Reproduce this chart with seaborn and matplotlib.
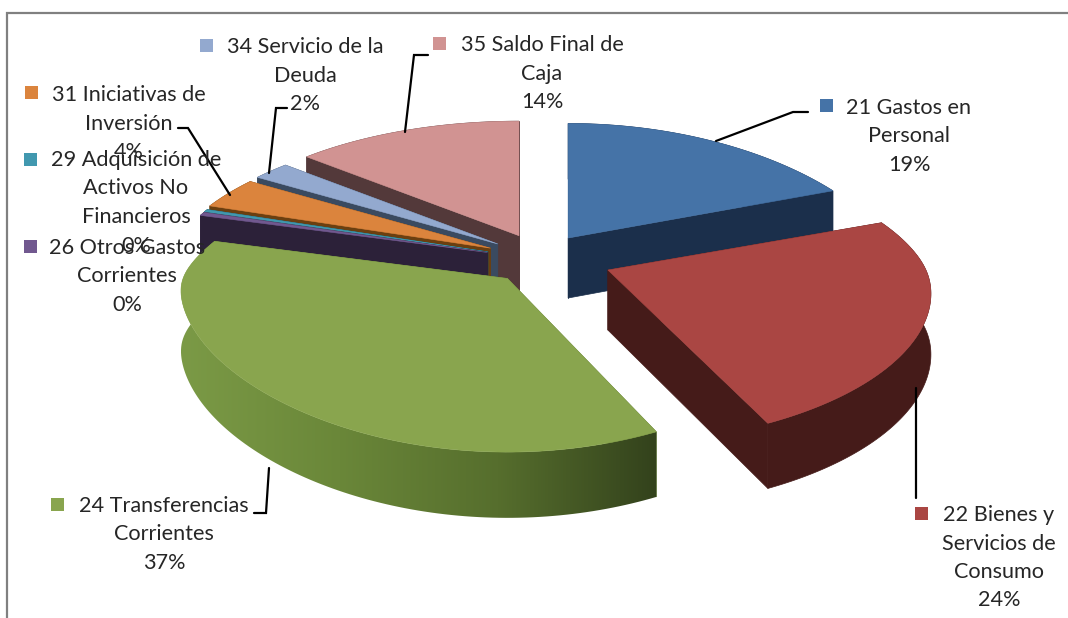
import numpy as np
import matplotlib
matplotlib.use("Agg")
import matplotlib.pyplot as plt
from matplotlib.patches import Polygon, Rectangle
import seaborn as sns

# ===== DATA =====
label_lines = [
    ["21 Gastos en", "Personal"],
    ["22 Bienes y", "Servicios de", "Consumo"],
    ["24 Transferencias", "Corrientes"],
    ["26 Otros Gastos", "Corrientes"],
    ["29 Adquisición de", "Activos No", "Financieros"],
    ["31 Iniciativas de", "Inversión"],
    ["34 Servicio de la", "Deuda"],
    ["35 Saldo Final de", "Caja"],
]
values = [19.0, 24.0, 36.6, 0.4, 0.3, 3.7, 2.2, 13.8]

# ===== STYLE =====
top_colors = ["#4573A7", "#AA4643", "#89A54E", "#71588F", "#4198AF", "#DB843D", "#93A9CF", "#D19392"]
side_colors = ["#1B2F4B", "#451B19", "#5E7733", "#2C2139", "#154A52", "#6B3F10", "#3A4A60", "#53393A"]
explode_x = [1.0, 1.46, 1.0, 1.1, 1.1, 1.1, 1.05, 1.0]
explode_y = [1.0, 0.75, 0.75, 1.1, 1.1, 1.1, 1.05, 1.0]
front_widen = [0.1, 0.17, 0.08, 0.1, 0.1, 0.1, 0.1, 0.1]
back_narrow = [0.32, 0.22, 0.22, 0.22, 0.22, 0.22, 0.22, 0.22]
width_scale = [1.0, 1.0, 1.02, 1.0, 1.0, 1.0, 1.0, 1.0]
draw_order = [7, 6, 5, 4, 3, 2, 0, 1]

CENTER = (540, 262)
EXPLODE_X, EXPLODE_Y = 50, 29
RX, RY, PERSP, DEPTH = 318, 138, 0.205, 60

# label block: centre x, y of first line, key x, key y
label_pos = [
    (909, 108, 820, 99), (999, 515, 915, 507), (164, 506, 51, 498), (127, 248, 24, 240),
    (136, 160, 24, 153), (129, 95, 25, 86), (305, 47, 200, 39), (542, 45, 433, 37),
]
line_step = 28.5
leaders = [
    [(716, 141), (793, 112), (808, 112)],
    [(916, 388), (916, 498)],
    [(269, 468), (266, 513), (254, 513)],
    [(230, 195), (188, 128), (178, 128)],
    [(269, 173), (276, 108), (287, 108)],
    [(405, 132), (414, 55), (428, 55)],
]

sns.set_theme(style="white")
plt.rcParams["font.family"] = ["Lato", "DejaVu Sans"]

fig = plt.figure(figsize=(10.68, 6.18), dpi=100, facecolor="white")
ax = fig.add_axes([0, 0, 1, 1])
ax.set_axis_off()

shares = np.array(values) / np.sum(values)
edges = np.concatenate([[0], np.cumsum(shares)]) * 2 * np.pi


def project(theta, apex, widen, narrow, scale):
    c = np.cos(theta)
    p = 1 / (1 + PERSP * c)
    # x perspective differs front and back, blended so the rim has no kink
    k = (narrow + widen) / 2 + (narrow - widen) / 2 * np.tanh(6 * c)
    px = 1 / (1 + k * c)
    return apex[0] + RX * scale * np.sin(theta) * px, apex[1] - RY * c * p, p


z = 2
green_cmap = sns.blend_palette(["#7B9A46", "#6A8739", "#566E2D", "#33421C"], as_cmap=True)
for i in draw_order:
    t0, t1 = edges[i], edges[i + 1]
    mid = (t0 + t1) / 2
    apex = (CENTER[0] + explode_x[i] * EXPLODE_X * np.sin(mid),
            CENTER[1] - explode_y[i] * EXPLODE_Y * np.cos(mid))
    theta = np.linspace(t0, t1, 120)
    x, y, p = project(theta, apex, front_widen[i], back_narrow[i], width_scale[i])
    low = y + DEPTH * p ** 0.4

    # radial faces
    for k in (0, -1):
        quad = [apex, (x[k], y[k]), (x[k], low[k]), (apex[0], apex[1] + DEPTH)]
        ax.add_patch(Polygon(quad, fc=side_colors[i], ec=side_colors[i], lw=0.5, zorder=z))
    # outer wall
    wall = np.column_stack([np.r_[x, x[::-1]], np.r_[y, low[::-1]]])
    if i == 2:
        patch = Polygon(wall, fc="none", ec="none", zorder=z + 1)
        ax.add_patch(patch)
        img = ax.imshow(np.linspace(0, 1, 256)[None, :], cmap=green_cmap, aspect="auto",
                        extent=[x.min(), x.max(), low.max(), y.min()], zorder=z + 1)
        img.set_clip_path(patch)
    else:
        ax.add_patch(Polygon(wall, fc=side_colors[i], ec=side_colors[i], lw=0.5, zorder=z + 1))
    # top surface
    top = np.column_stack([np.r_[apex[0], x], np.r_[apex[1], y]])
    ax.add_patch(Polygon(top, fc=top_colors[i], ec=top_colors[i], lw=0.4, zorder=z + 2))
    z += 3

for pts in leaders:
    xs, ys = zip(*pts)
    ax.plot(xs, ys, color="black", lw=1.6, solid_joinstyle="miter", zorder=60)

# labels
for i, lines in enumerate(label_lines):
    cx, cy, kx, ky = label_pos[i]
    rows = lines + [f"{round(values[i])}%"]
    for j, row in enumerate(rows):
        ax.text(cx, cy + j * line_step, row, ha="center", va="center", fontsize=15.6,
                color="#262626", zorder=70)
    ax.add_patch(Rectangle((kx, ky), 13, 13, fc=top_colors[i], ec="none", zorder=70))

# chart frame
ax.plot([7, 7, 1068], [618, 13, 13], color="#808080", lw=1.6, solid_joinstyle="miter", zorder=1)

ax.set_xlim(0, 1068)
ax.set_ylim(618, 0)
fig.savefig("out.png", dpi=100, facecolor="white")
